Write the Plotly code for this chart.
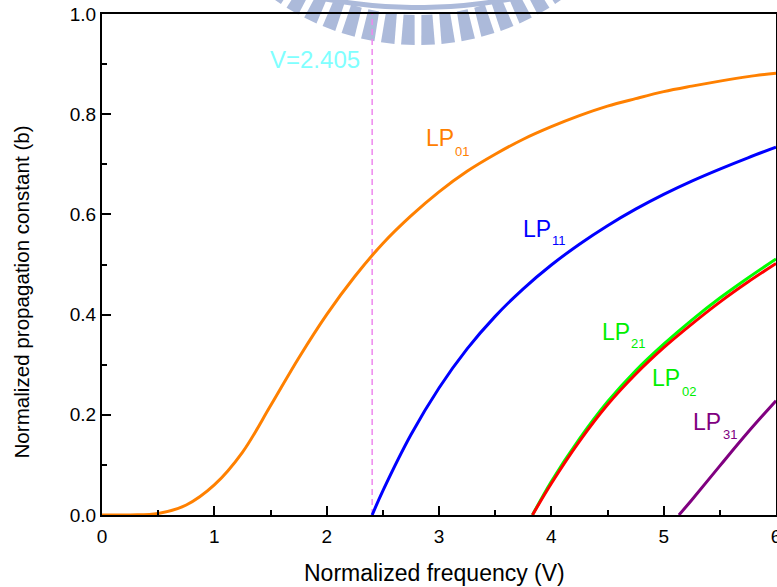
import math
import plotly.graph_objects as go

# ---- data ----
lp01_v = [0, 0.25, 0.5, 0.75, 1.0, 1.25, 1.5, 1.75, 2.0, 2.25, 2.5, 2.75, 3.0, 3.25, 3.5, 3.75,
          4.0, 4.25, 4.5, 4.75, 5.0, 5.25, 5.5, 5.75, 6.0]
lp01_b = [0, 0.0002, 0.003, 0.020, 0.060, 0.125, 0.218, 0.313, 0.400, 0.476, 0.542, 0.597, 0.645,
          0.686, 0.720, 0.750, 0.775, 0.797, 0.816, 0.831, 0.845, 0.856, 0.866, 0.875, 0.882]

lp11_v = [2.405, 2.5, 2.75, 3.0, 3.25, 3.5, 3.75, 4.0, 4.25, 4.5, 4.75, 5.0, 5.25, 5.5, 5.75, 6.0]
lp11_b = [0, 0.048, 0.160, 0.2535, 0.3315, 0.3965, 0.4515, 0.499, 0.5405, 0.5775, 0.6105, 0.640,
          0.6665, 0.6905, 0.713, 0.734]

lp21_v = [3.832, 4.0, 4.25, 4.5, 4.75, 5.0, 5.25, 5.5, 5.75, 6.0]
lp21_b = [0, 0.067, 0.152, 0.226, 0.288, 0.341, 0.389, 0.433, 0.473, 0.511]

lp02_v = [3.832, 4.0, 4.25, 4.5, 4.75, 5.0, 5.25, 5.5, 5.75, 6.0]
lp02_b = [0, 0.063, 0.147, 0.220, 0.281, 0.334, 0.381, 0.425, 0.465, 0.502]

lp31_v = [5.136, 5.25, 5.5, 5.75, 6.0]
lp31_b = [0, 0.030, 0.098, 0.165, 0.228]

cutoff_v = 2.405
cutoff_label = "V=2.405"

x_ticks = [0, 1, 2, 3, 4, 5, 6]
y_ticks = [0.0, 0.2, 0.4, 0.6, 0.8, 1.0]

# label subscript, main text position (V,b), subscript position (V,b), color
labels = [
    ("01", (3.009, 0.7535), (3.205, 0.726), "#FF8000"),
    ("11", (3.868, 0.5715), (4.070, 0.547), "#0000FF"),
    ("21", (4.576, 0.366), (4.774, 0.342), "#00EE00"),
    ("02", (5.021, 0.273), (5.226, 0.246), "#00EE00"),
    ("31", (5.390, 0.186), (5.588, 0.160), "#800080"),
]

FONT = "Arial, Liberation Sans, sans-serif"

fig = go.Figure()

series = [
    (lp01_v, lp01_b, "#FF8000"),
    (lp11_v, lp11_b, "#0000FF"),
    (lp21_v, lp21_b, "#00FF00"),
    (lp02_v, lp02_b, "#FF0000"),
    (lp31_v, lp31_b, "#800080"),
]

# dashed cutoff line
fig.add_trace(go.Scatter(x=[cutoff_v, cutoff_v], y=[0, 1], mode="lines",
                         line=dict(color="#EE88EE", width=1.5, dash="6px,4px"),
                         showlegend=False, hoverinfo="skip"))

for xs, ys, col in series:
    fig.add_trace(go.Scatter(x=xs, y=ys, mode="lines",
                             line=dict(color=col, width=3, shape="spline", smoothing=1.0),
                             showlegend=False))

annotations = []
for sub, (mx, my), (sx, sy), col in labels:
    annotations.append(dict(x=mx, y=my, xref="x", yref="y", text="LP", showarrow=False,
                            font=dict(family=FONT, size=23, color=col),
                            xanchor="center", yanchor="middle"))
    annotations.append(dict(x=sx, y=sy, xref="x", yref="y", text=sub, showarrow=False,
                            font=dict(family=FONT, size=13, color=col),
                            xanchor="center", yanchor="middle"))

annotations.append(dict(x=2.318, y=0.910, xref="x", yref="y", text=cutoff_label, showarrow=False,
                        font=dict(family=FONT, size=24, color="#80FFFF"),
                        xanchor="right", yanchor="middle"))

annotations.append(dict(x=0.494, y=-0.116, xref="paper", yref="paper",
                        text="Normalized frequency (V)", showarrow=False,
                        font=dict(family=FONT, size=23, color="black"),
                        xanchor="center", yanchor="middle"))
annotations.append(dict(x=-0.1187, y=0.446, xref="paper", yref="paper",
                        text="Normalized propagation constant (b)", showarrow=False, textangle=-90,
                        font=dict(family=FONT, size=20.6, color="black"),
                        xanchor="center", yanchor="middle"))

# watermark logo (decorative), drawn in pixels around an anchor
shapes = []
logo_col = "rgb(172,186,218)"
PLOT_L, PLOT_B, PLOT_W, PLOT_H = 102, 515, 674, 501


def anchor(px, py):
    return (px - PLOT_L) / PLOT_W, (PLOT_B - py) / PLOT_H


def add_path(pts, ax, ay):
    path = "M" + "L".join(f"{x:.2f},{y:.2f}" for x, y in pts) + "Z"
    shapes.append(dict(type="path", path=path, xref="paper", yref="paper",
                       xsizemode="pixel", ysizemode="pixel", xanchor=ax, yanchor=ay,
                       fillcolor=logo_col, line=dict(width=0), layer="below"))


bx, by = anchor(418, -205)
r_in, r_out = 220, 250
step = 0.081
for k in range(-8, 9):
    th = (k + 0.5) * step
    a_in = 5.5 / r_in
    a_out = 6.8 / r_out
    corners = [(r_in, th - a_in), (r_out, th - a_out), (r_out, th + a_out), (r_in, th + a_in)]
    add_path([(r * math.sin(a), -r * math.cos(a)) for r, a in corners], bx, by)

rx, ry = anchor(418, -496)
arc = []
for i in range(41):
    a = -0.26 + 0.52 * i / 40
    arc.append((501 * math.sin(a), -501 * math.cos(a)))
for i in range(41):
    a = 0.26 - 0.52 * i / 40
    arc.append((506 * math.sin(a), -506 * math.cos(a)))
add_path(arc, rx, ry)

fig.update_layout(
    width=777, height=587,
    margin=dict(l=102, r=1, t=14, b=72, autoexpand=False),
    paper_bgcolor="white", plot_bgcolor="rgba(0,0,0,0)",
    annotations=annotations, shapes=shapes,
    font=dict(family=FONT, size=19, color="black"),
    xaxis=dict(range=[0, 6], tickvals=x_ticks, ticks="inside", ticklen=9, tickwidth=2,
               tickcolor="black", showline=True, linecolor="black", linewidth=2, mirror=True,
               showgrid=False, zeroline=False, tickfont=dict(size=19), ticklabelstandoff=3,
               ticklabeloverflow="allow", automargin=False,
               minor=dict(dtick=0.5, ticks="inside", ticklen=5, tickwidth=2, tickcolor="black", showgrid=False)),
    yaxis=dict(range=[0, 1], tickvals=y_ticks, tickformat=".1f", ticks="inside", ticklen=9, tickwidth=2,
               tickcolor="black", showline=True, linecolor="black", linewidth=2, mirror=True,
               showgrid=False, zeroline=False, tickfont=dict(size=19), ticklabeloverflow="allow",
               automargin=False,
               minor=dict(dtick=0.1, ticks="inside", ticklen=5, tickwidth=2, tickcolor="black", showgrid=False)),
)

fig.write_html("out.html", config={"displayModeBar": False},
               post_script="document.body.style.margin='0px';")
